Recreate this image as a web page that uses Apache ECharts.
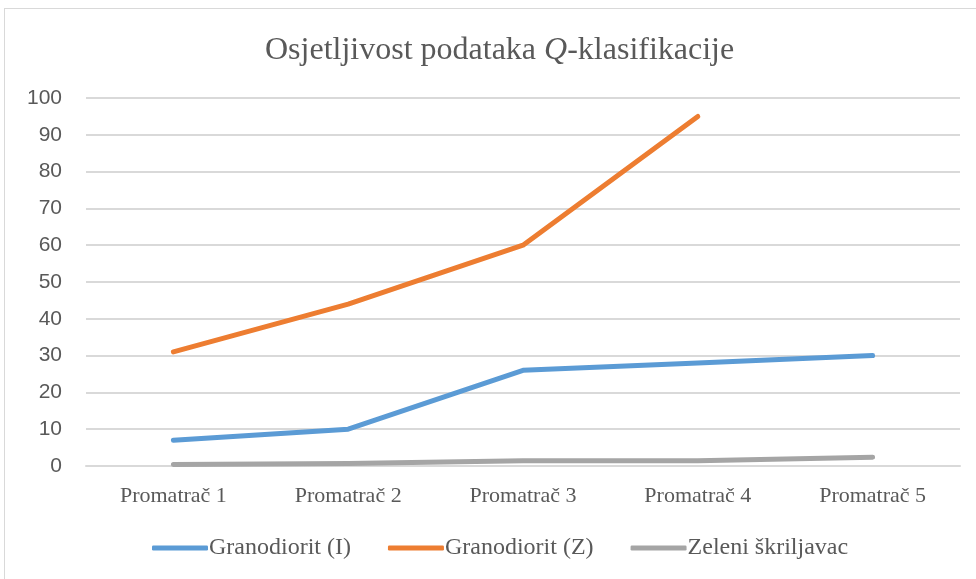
<!DOCTYPE html>
<html>
<head>
<meta charset="utf-8">
<script src="https://cdn.jsdelivr.net/npm/echarts@6/dist/echarts.min.js"></script>
<style>
  html, body { margin: 0; padding: 0; background: #fff; }
  #frame { position: absolute; left: 4px; top: 8px; width: 990px; height: 590px; border: 1px solid #d9d9d9; }
  #chart { position: absolute; left: 0; top: 0; width: 976px; height: 579px; }
</style>
</head>
<body>
<div id="frame"></div>
<div id="chart"></div>
<script>
    var categories = ['Promatrač 1', 'Promatrač 2', 'Promatrač 3', 'Promatrač 4', 'Promatrač 5'];
    var granodioritI = [7, 10, 26, 28, 30];
    var granodioritZ = [31, 44, 60, 95, null];
    var zeleniSkriljavac = [0.4, 0.7, 1.4, 1.4, 2.4];

    var chart = echarts.init(document.getElementById('chart'));

    function lineSeries(name, data, color) {
        return {
            name: name,
            type: 'line',
            data: data,
            showSymbol: false,
            connectNulls: false,
            lineStyle: { width: 5, color: color, cap: 'round', join: 'round' },
            itemStyle: { color: color }
        };
    }

    var option = {
        animation: false,
        title: {
            text: 'Osjetljivost podataka {q|Q}-klasifikacije',
            left: 260,
            top: 30,
            textStyle: {
                fontFamily: 'Liberation Serif',
                fontSize: 32,
                fontWeight: 'normal',
                color: '#595959',
                rich: {
                    q: { fontFamily: 'Liberation Serif', fontStyle: 'italic', fontSize: 32, color: '#595959' }
                }
            }
        },
        legend: {
            bottom: 14,
            left: 147,
            itemWidth: 56,
            itemHeight: 5,
            itemGap: 37,
            icon: 'roundRect',
            textStyle: { fontFamily: 'Liberation Serif', fontSize: 24, color: '#595959', padding: [0, 0, 0, -4] }
        },
        grid: { left: 86, right: 16, top: 98, bottom: 113 },
        xAxis: {
            type: 'category',
            data: categories,
            boundaryGap: true,
            axisLine: { lineStyle: { color: '#d9d9d9', width: 2 } },
            axisTick: { show: false },
            axisLabel: { fontFamily: 'Liberation Serif', fontSize: 22, color: '#595959', margin: 19 }
        },
        yAxis: {
            type: 'value',
            min: 0,
            max: 100,
            interval: 10,
            axisLine: { show: false },
            axisTick: { show: false },
            splitLine: { lineStyle: { color: '#d9d9d9', width: 2 } },
            axisLabel: { fontFamily: 'Liberation Sans', fontSize: 21, color: '#595959', margin: 24 }
        },
        series: [
            lineSeries('Granodiorit (I)', granodioritI, '#5b9bd5'),
            lineSeries('Granodiorit (Z)', granodioritZ, '#ed7d31'),
            lineSeries('Zeleni škriljavac', zeleniSkriljavac, '#a5a5a5')
        ]
    };

    chart.setOption(option);
</script>
</body>
</html>
